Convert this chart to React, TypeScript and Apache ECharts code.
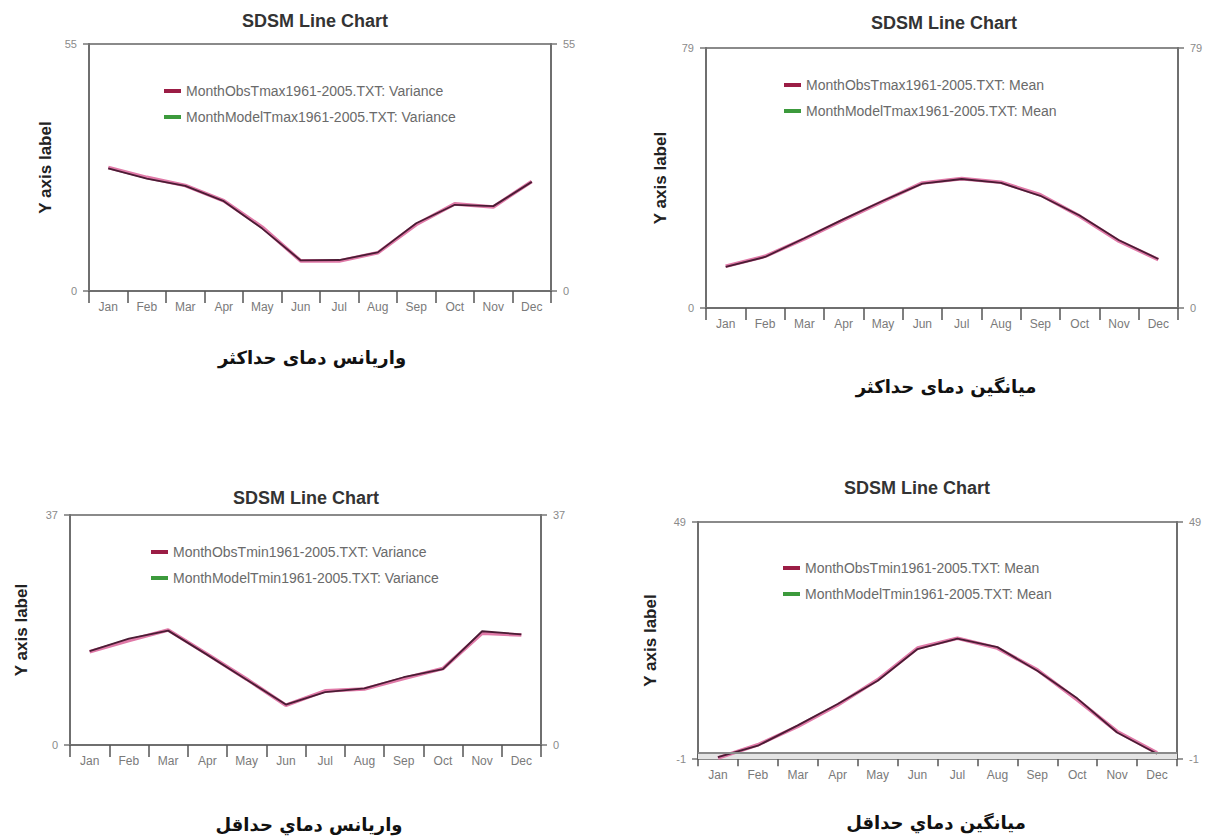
import React, { useEffect, useRef } from "react";
import * as echarts from "echarts";

const MONTHS = ["Jan", "Feb", "Mar", "Apr", "May", "Jun", "Jul", "Aug", "Sep", "Oct", "Nov", "Dec"];

// Panel 1: Tmax variance
const tmaxVarObs = [27.5, 25.3, 23.5, 20.1, 14.2, 6.7, 6.7, 8.5, 14.8, 19.4, 18.7, 24.4];
const tmaxVarModel = [27.3, 25.0, 23.4, 20.0, 13.9, 6.8, 6.9, 8.6, 15.1, 19.2, 18.9, 24.3];
// Panel 2: Tmax mean
const tmaxMeanObs = [12.7, 15.7, 21.0, 26.8, 32.4, 38.0, 39.3, 38.2, 34.4, 27.9, 20.3, 14.7];
const tmaxMeanModel = [12.5, 15.5, 21.2, 27.0, 32.6, 37.8, 39.2, 38.0, 34.1, 28.1, 20.6, 14.9];
// Panel 3: Tmin variance
const tminVarObs = [15.0, 16.8, 18.5, 14.6, 10.6, 6.4, 8.7, 9.0, 10.7, 12.3, 18.0, 17.7];
const tminVarModel = [15.1, 17.1, 18.4, 14.5, 10.5, 6.5, 8.5, 9.1, 10.9, 12.2, 18.3, 17.8];
// Panel 4: Tmin mean
const tminMeanObs = [-0.8, 2.0, 5.9, 10.4, 15.7, 22.4, 24.5, 22.4, 17.8, 11.5, 4.8, 0.3];
const tminMeanModel = [-0.6, 1.8, 6.1, 10.6, 15.5, 22.2, 24.4, 22.6, 17.6, 11.8, 4.6, 0.1];

const Y_RANGES = [
  [0, 55],
  [0, 79],
  [0, 37],
  [-1, 49],
];

const LEGEND_NAMES = [
  ["MonthObsTmax1961-2005.TXT: Variance", "MonthModelTmax1961-2005.TXT: Variance"],
  ["MonthObsTmax1961-2005.TXT: Mean", "MonthModelTmax1961-2005.TXT: Mean"],
  ["MonthObsTmin1961-2005.TXT: Variance", "MonthModelTmin1961-2005.TXT: Variance"],
  ["MonthObsTmin1961-2005.TXT: Mean", "MonthModelTmin1961-2005.TXT: Mean"],
];

const CAPTIONS = ["واریانس دمای حداکثر", "میانگین دمای حداکثر", "واريانس دماي حداقل", "میانگین دماي حداقل"];
const CHART_TITLE = "SDSM Line Chart";
const Y_LABEL = "Y axis label";

const SERIES_DATA = [
  [tmaxVarObs, tmaxVarModel],
  [tmaxMeanObs, tmaxMeanModel],
  [tminVarObs, tminVarModel],
  [tminMeanObs, tminMeanModel],
];

// layout (pixels)
const GRIDS = [
  { left: 89, top: 44, width: 462, height: 247 },
  { left: 706, top: 48, width: 472, height: 260 },
  { left: 70, top: 515, width: 471, height: 230 },
  { left: 698, top: 522, width: 479, height: 237 },
];
const TITLE_POS = [
  [315, 21],
  [944, 23],
  [306, 498],
  [917, 488],
];
const LEGEND_POS = [
  [159, 79],
  [779, 73],
  [146, 540],
  [778, 556],
];
const YLABEL_X = [45, 660, 21, 650];
const CAPTION_POS = [
  [312, 357],
  [946, 386],
  [309, 824],
  [936, 822],
];

const FONT = "'Liberation Sans', Arial, sans-serif";
const OBS_ICON = "#9b1d45";
const MODEL_ICON = "#3c9a3c";

export default function App() {
  const ref = useRef<HTMLDivElement>(null);
  useEffect(() => {
    if (!ref.current) return;
    const chart = echarts.init(ref.current, null, { renderer: "svg" });
    const grid: any[] = [];
    const xAxis: any[] = [];
    const yAxis: any[] = [];
    const series: any[] = [];
    const legend: any[] = [];
    const graphic: any[] = [];

    GRIDS.forEach((g, i) => {
      const [mn, mx] = Y_RANGES[i];
      grid.push({ ...g, show: true, borderColor: "#8a8a8a", borderWidth: 2, backgroundColor: "transparent" });
      xAxis.push({
        type: "category",
        gridIndex: i,
        data: MONTHS,
        boundaryGap: true,
        axisLine: { show: true, lineStyle: { color: "#6f6f6f", width: 2 } },
        axisTick: { show: true, length: 12, lineStyle: { color: "#555", width: 1.5 } },
        axisLabel: { interval: 0, fontSize: 12, color: "#7a7a7a", margin: 10, fontFamily: FONT },
        splitLine: { show: false },
      });
      ["left", "right"].forEach((pos) => {
        yAxis.push({
          type: "value",
          gridIndex: i,
          position: pos,
          min: mn,
          max: mx,
          splitLine: { show: false },
          axisLine: { show: true, lineStyle: { color: "#6f6f6f", width: 2 } },
          axisTick: { show: true, length: 6, customValues: [mn, mx], lineStyle: { color: "#777", width: 1.5 } },
          axisLabel: { customValues: [mn, mx], fontSize: 11, color: "#8a8a8a", margin: 12, fontFamily: FONT },
        });
      });
      const [obsName, modelName] = LEGEND_NAMES[i];
      const [obs, model] = SERIES_DATA[i];
      series.push({
        type: "line",
        name: obsName,
        xAxisIndex: i,
        yAxisIndex: i * 2,
        data: obs,
        showSymbol: false,
        lineStyle: { color: "#e07aa8", width: 3.6 },
        itemStyle: { color: OBS_ICON },
        z: 2,
        ...(i === 3
          ? {
              markArea: {
                silent: true,
                itemStyle: { color: "#e4e4e4" },
                data: [[{ yAxis: -1 }, { yAxis: 0.3 }]],
              },
              markLine: {
                silent: true,
                symbol: "none",
                label: { show: false },
                lineStyle: { color: "#8a8a8a", width: 2, type: "solid" },
                data: [{ yAxis: 0.3 }],
              },
            }
          : {}),
      });
      series.push({
        type: "line",
        name: modelName,
        xAxisIndex: i,
        yAxisIndex: i * 2,
        data: model,
        showSymbol: false,
        lineStyle: { color: "#4a1c34", width: 1.8 },
        itemStyle: { color: MODEL_ICON },
        z: 3,
      });
      legend.push({
        orient: "vertical",
        left: LEGEND_POS[i][0],
        top: LEGEND_POS[i][1],
        icon: "rect",
        itemWidth: 17,
        itemHeight: 4,
        itemGap: 12,
        selectedMode: false,
        textStyle: { fontSize: 14, color: "#6a6a6a", fontFamily: FONT },
        data: [
          { name: obsName, itemStyle: { color: OBS_ICON } },
          { name: modelName, itemStyle: { color: MODEL_ICON } },
        ],
      });
      graphic.push({
        type: "text",
        x: TITLE_POS[i][0],
        y: TITLE_POS[i][1],
        style: {
          text: CHART_TITLE,
          fontSize: 18,
          fontWeight: "bold",
          fontFamily: FONT,
          fill: "#333",
          textAlign: "center",
          textVerticalAlign: "middle",
        },
      });
      graphic.push({
        type: "text",
        x: YLABEL_X[i],
        y: g.top + g.height / 2,
        rotation: Math.PI / 2,
        style: {
          text: Y_LABEL,
          fontSize: 17,
          fontWeight: "bold",
          fontFamily: FONT,
          fill: "#222",
          textAlign: "center",
          textVerticalAlign: "middle",
        },
      });
      graphic.push({
        type: "text",
        x: CAPTION_POS[i][0],
        y: CAPTION_POS[i][1],
        style: {
          text: CAPTIONS[i],
          fontSize: 18,
          fontWeight: "bold",
          fontFamily: "'DejaVu Serif', 'DejaVu Sans', serif",
          fill: "#111",
          textAlign: "center",
          textVerticalAlign: "middle",
        },
      });
    });

    chart.setOption({
      animation: false,
      backgroundColor: "#ffffff",
      grid,
      xAxis,
      yAxis,
      series,
      legend,
      graphic,
    });
    return () => chart.dispose();
  }, []);
  return (
    <div
      ref={ref}
      style={{ position: "absolute", left: 0, top: 0, width: 1208, height: 836, background: "#fff" }}
    />
  );
}
